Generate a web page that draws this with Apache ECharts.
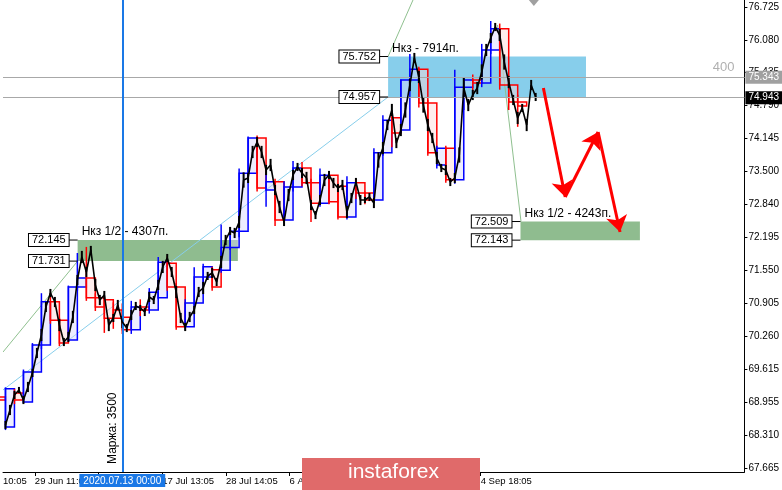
<!DOCTYPE html>
<html><head><meta charset="utf-8">
<script src="https://cdn.jsdelivr.net/npm/echarts@6/dist/echarts.min.js"></script>
<style>html,body{margin:0;padding:0;background:#fff}#c{width:782px;height:490px}</style>
</head><body><div id="c"></div>
<script>
// ---- data (x unit = trading day index, y = price) ----
const yTickValues = [67.665, 68.310, 68.955, 69.615, 70.260, 70.905, 71.550, 72.195, 72.840, 73.500, 74.145, 74.790, 75.435, 76.080, 76.725];
const xMin = -0.775, xMax = 81.73, yMin = 67.586, yMax = 76.863;
const xTickDays = [2.77, 9.86, 16.94, 24.03, 31.12, 38.21, 45.29, 52.38];
const xTickLabels = ['29 Jun 11:05', '8 Jul 12:05', '17 Jul 13:05', '28 Jul 14:05', '6 Aug 15:05', '17 Aug 16:05', '26 Aug 17:05', '4 Sep 18:05'];
const xEdgeLabel = '10:05';

const candleDay   = [-1,0,1,2,3,4,5,6,7,8,9,10,11,12,13,14,15,16,17,18,19,20,21,22,23,24,25,26,27,28,29,30,31,32,33,34,35,36,37,38,39,40,41,42,43,44,45,46,47,48,49,50,51,52,53,54,55,56,57];
const candleOpen  = [69.06,68.47,69.14,68.96,69.55,70.08,70.93,70.57,70.18,71.22,71.40,71.01,70.97,70.77,70.63,70.38,70.83,70.77,71.01,71.69,71.22,70.44,70.91,71.42,71.56,71.55,72.00,72.32,73.46,74.15,73.13,73.29,72.54,73.19,73.56,73.27,72.87,73.42,73.20,72.60,73.27,73.07,72.93,73.86,74.55,74.31,75.29,75.50,74.84,73.62,73.95,73.33,75.15,75.29,75.23,75.88,76.30,75.19,74.86];
const candleClose = [69.00,69.22,69.00,69.55,70.08,70.93,70.57,70.12,71.22,71.40,71.01,70.83,70.61,70.61,70.38,70.83,70.77,71.12,71.71,71.22,70.44,70.91,71.42,71.62,71.22,72.00,72.32,73.46,74.15,73.17,73.29,72.54,73.19,73.56,73.27,72.87,73.42,72.90,72.60,73.27,73.07,72.93,73.86,74.50,74.25,75.29,75.50,74.84,73.86,73.95,73.33,75.15,75.29,75.23,75.88,76.30,75.19,74.86,74.78];
const candleLow   = [68.95,68.41,68.92,68.94,69.45,70.00,70.50,70.06,70.15,71.15,70.95,70.75,70.32,70.40,70.30,70.30,70.65,70.70,70.98,71.15,70.38,70.38,70.85,71.25,71.15,71.50,71.95,72.20,73.30,73.10,72.80,72.42,72.48,73.10,73.20,72.50,72.80,72.85,72.55,72.55,72.95,72.85,72.90,73.80,73.97,74.25,75.20,74.75,73.80,73.55,73.27,73.25,74.70,75.00,75.15,75.80,75.10,74.70,74.37];
const candleHigh  = [69.10,69.25,69.22,69.60,70.12,71.10,71.10,70.62,71.25,71.89,72.01,71.10,71.05,70.92,70.90,70.95,70.98,71.20,71.81,71.82,71.30,70.98,71.61,71.68,71.62,72.45,72.40,73.55,74.18,74.20,73.45,73.35,73.30,73.70,73.68,73.35,73.55,73.50,73.25,73.40,73.35,73.10,73.95,74.60,74.60,75.30,75.80,75.55,74.90,74.00,74.00,75.49,75.35,75.40,76.00,76.45,76.40,75.25,75.00];

const priceStartDay = -0.5, priceStepDay = 0.5;
const priceValues = [
 68.510,68.805,69.100,69.198,69.001,69.257,69.532,69.925,70.279,70.829,
 71.104,70.927,70.475,70.141,70.240,70.633,71.360,71.812,71.517,71.950,
 71.262,70.967,71.065,70.475,70.613,70.868,70.534,70.416,70.672,70.849,
 70.810,70.731,71.026,70.967,71.262,71.616,71.792,71.517,71.124,70.613,
 70.436,70.633,70.770,71.124,71.203,71.439,71.498,71.321,71.714,72.146,
 72.323,72.284,72.500,73.325,73.365,73.876,74.072,73.876,73.522,73.620,
 73.128,72.795,72.500,73.030,73.424,73.581,73.463,73.365,72.834,72.637,
 72.932,73.325,73.424,73.266,73.168,73.227,72.696,72.971,73.286,72.932,
 72.932,72.991,72.873,73.718,73.954,74.406,74.701,74.052,74.308,74.701,
 75.192,75.723,75.350,74.799,74.406,74.151,73.758,73.561,73.522,73.286,
 73.365,73.817,75.133,74.799,74.996,75.133,75.448,75.880,76.116,76.332,
 76.175,75.644,75.251,74.898,74.544,74.740,74.406,75.192,74.957];
// half of the intraday range around each point (thickness of the black band)
const priceSwing = [
 0.08,0.10,0.08,0.06,0.08,0.10,0.08,0.10,0.12,0.10,
 0.08,0.10,0.12,0.08,0.10,0.12,0.10,0.12,0.10,0.08,
 0.12,0.10,0.08,0.12,0.08,0.10,0.12,0.08,0.10,0.08,
 0.06,0.08,0.10,0.08,0.10,0.12,0.08,0.10,0.12,0.10,
 0.08,0.10,0.08,0.10,0.12,0.08,0.10,0.08,0.12,0.10,
 0.08,0.10,0.12,0.15,0.10,0.12,0.10,0.12,0.10,0.12,
 0.10,0.12,0.08,0.12,0.10,0.08,0.10,0.12,0.10,0.08,
 0.10,0.12,0.08,0.10,0.08,0.10,0.12,0.10,0.08,0.10,
 0.06,0.08,0.10,0.15,0.12,0.10,0.12,0.10,0.12,0.15,
 0.12,0.10,0.12,0.15,0.12,0.10,0.12,0.08,0.10,0.08,
 0.10,0.15,0.20,0.12,0.10,0.12,0.15,0.12,0.10,0.08,
 0.12,0.15,0.12,0.10,0.12,0.08,0.12,0.10,0.08];

const askPrice = 75.343, bidPrice = 74.943, spreadText = '400';
const markerDay = 12.5, markerLabel = '2020.07.13 00:00', marginLabel = 'Маржа: 3500';

const zoneStart   = [42.08, 7.53, 56.81];
const zoneEnd     = [64.10, 25.36, 70.10];
const zoneHigh    = [75.752, 72.145, 72.509];
const zoneLow     = [74.957, 71.731, 72.143];
const zoneCaption = ['Нкз - 7914п.', 'Нкз 1/2 - 4307п.', 'Нкз 1/2 - 4243п.'];

const trendFrom = [[-0.775, 69.198], [-0.775, 69.944], [42.08, 75.752], [54.26, 76.372]];
const trendTo   = [[42.08, 74.957], [7.53, 71.731], [44.85, 76.863], [56.87, 72.509]];
const arrowFrom = [[59.36, 75.133], [61.79, 72.991], [65.45, 74.269]];
const arrowTo   = [[61.79, 72.991], [65.45, 74.269], [67.89, 72.303]];
const shiftMarkDay = 58.3;

// ---- styles ----
const zoneFill = ['#87ceeb', '#8fbc8f', '#8fbc8f'];
const trendColor = ['#87ceeb', '#8fc08f', '#8fc08f', '#8fc08f'];
const FONT = '"Liberation Sans", Arial, sans-serif';

const chart = echarts.init(document.getElementById('c'));

function renderCandle(params, api) {
  const d = api.value(0), o = api.value(1), c = api.value(2), l = api.value(3), h = api.value(4);
  const pO = api.coord([d, o]), pC = api.coord([d, c]), pL = api.coord([d, l]), pH = api.coord([d, h]);
  const w = api.size([1, 0])[0];
  const x0 = pO[0] - w / 2;
  const up = c >= o;
  const col = up ? '#0000ff' : '#ff0000';
  const fill = up ? 'rgba(215,215,255,0.45)' : 'rgba(255,215,215,0.45)';
  const yT = Math.min(pO[1], pC[1]), yB = Math.max(pO[1], pC[1]);
  return { type: 'group', children: [
    { type: 'rect', shape: { x: x0, y: yT, width: w, height: Math.max(yB - yT, 1) }, style: { fill: fill, stroke: col, lineWidth: 1.5 } },
    { type: 'line', shape: { x1: x0, y1: pH[1], x2: x0, y2: pL[1] }, style: { stroke: col, lineWidth: 1.5 } }
  ]};
}

function renderSwing(params, api) {
  const d = api.value(0), p = api.value(1), s = api.value(2);
  const a = api.coord([d, p + s]), b = api.coord([d, p - s]);
  return { type: 'line', shape: { x1: a[0], y1: a[1], x2: b[0], y2: b[1] }, style: { stroke: '#000', lineWidth: 2 } };
}

function renderZone(params, api) {
  const i = params.dataIndex;
  const a = api.coord([api.value(0), api.value(2)]);
  const b = api.coord([api.value(1), api.value(3)]);
  return { type: 'rect', shape: { x: a[0], y: a[1], width: b[0] - a[0], height: b[1] - a[1] }, style: { fill: zoneFill[i] } };
}

function renderZoneLabels(params, api) {
  const i = params.dataIndex;
  const hi = api.value(1), lo = api.value(2);
  const a = api.coord([api.value(0), hi]);
  const b = api.coord([api.value(0), lo]);
  const x0 = a[0], y0 = a[1], y1 = b[1];
  const ch = [];
  [[y0, hi], [y1, lo]].forEach(function (pr) {
    ch.push({ type: 'line', shape: { x1: x0 - 9, y1: pr[0], x2: x0, y2: pr[0] }, style: { stroke: '#000', lineWidth: 1 } });
    ch.push({ type: 'text', x: x0 - 9, y: pr[0], style: { text: pr[1].toFixed(3), font: '11px ' + FONT, fill: '#000', align: 'right', verticalAlign: 'middle', backgroundColor: '#fff', borderColor: '#000', borderWidth: 1, padding: [1, 3, 0, 3] } });
  });
  ch.push({ type: 'text', x: x0 + 4, y: y0 - 2, style: { text: zoneCaption[i], font: '12px ' + FONT, fill: '#000', align: 'left', verticalAlign: 'bottom' } });
  return { type: 'group', children: ch };
}

function renderShift(params, api) {
  const p = api.coord([api.value(0), yMax]);
  return { type: 'polygon', shape: { points: [[p[0] - 5, p[1]], [p[0] + 5, p[1]], [p[0], p[1] + 6]] }, style: { fill: '#a0a0a0' } };
}

const hLine = { color: '#a8a8a8', width: 1, type: 'solid' };
const option = {
  animation: false,
  backgroundColor: '#fff',
  grid: { left: 0, right: 37, top: 0, bottom: 18, containLabel: false },
  xAxis: {
    type: 'value', min: xMin, max: xMax, position: 'bottom',
    axisLine: { show: true, onZero: false, lineStyle: { color: '#000', width: 1 } },
    axisTick: { show: true, length: 4, lineStyle: { color: '#000' }, customValues: xTickDays },
    axisLabel: {
      show: true, customValues: [xMin].concat(xTickDays), align: 'left', margin: 4,
      fontSize: 9.5, fontFamily: FONT, color: '#000',
      formatter: function (v) {
        if (Math.abs(v - xMin) < 0.01) return xEdgeLabel;
        for (let i = 0; i < xTickDays.length; i++) if (Math.abs(v - xTickDays[i]) < 0.01) return xTickLabels[i];
        return '';
      }
    },
    splitLine: { show: false }
  },
  yAxis: {
    type: 'value', min: yMin, max: yMax, position: 'right',
    axisLine: { show: true, onZero: false, lineStyle: { color: '#000', width: 1 } },
    axisTick: { show: true, length: 3, lineStyle: { color: '#000' }, customValues: yTickValues },
    axisLabel: { show: true, customValues: yTickValues, margin: 4, fontSize: 10, fontFamily: FONT, color: '#000',
      formatter: function (v) { return v.toFixed(3); } },
    splitLine: { show: false }
  },
  series: [
    { type: 'custom', name: 'zones', z: 1, clip: false, renderItem: renderZone,
      encode: { x: [0, 1], y: [2, 3] },
      data: zoneStart.map(function (s, i) { return [s, zoneEnd[i], zoneHigh[i], zoneLow[i]]; }) },
    { type: 'lines', coordinateSystem: 'cartesian2d', z: 2, silent: true,
      data: trendFrom.map(function (f, i) { return { coords: [f, trendTo[i]], lineStyle: { color: trendColor[i], width: 1, opacity: 1 } }; }) },
    { type: 'custom', name: 'daily', z: 3, renderItem: renderCandle,
      encode: { x: 0, y: [1, 2, 3, 4] },
      data: candleDay.map(function (d, i) { return [d, candleOpen[i], candleClose[i], candleLow[i], candleHigh[i]]; }) },
    { type: 'custom', name: 'swing', z: 4, renderItem: renderSwing,
      encode: { x: 0, y: 1 },
      data: priceValues.map(function (p, i) { return [priceStartDay + i * priceStepDay, p, priceSwing[i]]; }) },
    { type: 'custom', name: 'shift', z: 4, clip: false, renderItem: renderShift, encode: { x: 0 },
      data: [[shiftMarkDay]] },
    { type: 'line', name: 'price', z: 5, showSymbol: false, symbol: 'none',
      lineStyle: { color: '#000', width: 1.6 },
      data: priceValues.map(function (p, i) { return [priceStartDay + i * priceStepDay, p]; }),
      markLine: {
        silent: true, symbol: ['none', 'none'], animation: false,
        data: [
          [ { coord: [xMin, askPrice], lineStyle: hLine,
              label: { show: true, position: 'end', formatter: askPrice.toFixed(3), backgroundColor: '#a0a0a0', color: '#fff', padding: [2, 3, 1, 3], distance: 1, fontSize: 10, fontFamily: FONT } },
            { coord: [xMax, askPrice] } ],
          [ { coord: [xMin, askPrice], lineStyle: hLine,
              label: { show: true, position: 'insideEndTop', formatter: spreadText, color: '#b0b0b0', fontSize: 13, fontFamily: FONT, distance: [10, 3] } },
            { coord: [xMax, askPrice] } ],
          [ { coord: [xMin, bidPrice], lineStyle: hLine,
              label: { show: true, position: 'end', formatter: bidPrice.toFixed(3), backgroundColor: '#000', color: '#fff', padding: [2, 3, 1, 3], distance: 1, fontSize: 10, fontFamily: FONT } },
            { coord: [xMax, bidPrice] } ],
          { xAxis: markerDay, lineStyle: { color: '#1a78e6', width: 2, type: 'solid' },
            label: { show: true, position: 'start', formatter: markerLabel, backgroundColor: '#1a78e6', color: '#fff', padding: [2, 4, 1, 4], distance: 2, fontSize: 10, fontFamily: FONT } },
          { xAxis: markerDay, lineStyle: { color: '#1a78e6', width: 2, type: 'solid' },
            label: { show: true, position: 'insideStartTop', formatter: marginLabel, color: '#000', fontSize: 12, fontFamily: FONT, distance: [8, 4] } }
        ]
      }
    },
    { type: 'lines', coordinateSystem: 'cartesian2d', z: 6, silent: true,
      symbol: ['none', 'arrow'], symbolSize: [9, 16],
      lineStyle: { color: '#ff0000', width: 3, opacity: 1 },
      data: arrowFrom.map(function (f, i) { return { coords: [f, arrowTo[i]] }; }) },
    { type: 'custom', name: 'zoneLabels', z: 8, clip: false, renderItem: renderZoneLabels,
      encode: { x: 0, y: [1, 2] },
      data: zoneStart.map(function (s, i) { return [s, zoneHigh[i], zoneLow[i]]; }) }
  ],
  graphic: [
    { type: 'rect', left: 302, top: 458, zlevel: 5, z: 100, shape: { width: 178, height: 32 }, style: { fill: '#e06a6a' } },
    { type: 'text', left: 348, top: 462, zlevel: 5, z: 101, style: { text: 'instaforex', fill: '#fff', font: '21px ' + FONT } }
  ]
};
chart.setOption(option);
</script>
</body></html>
